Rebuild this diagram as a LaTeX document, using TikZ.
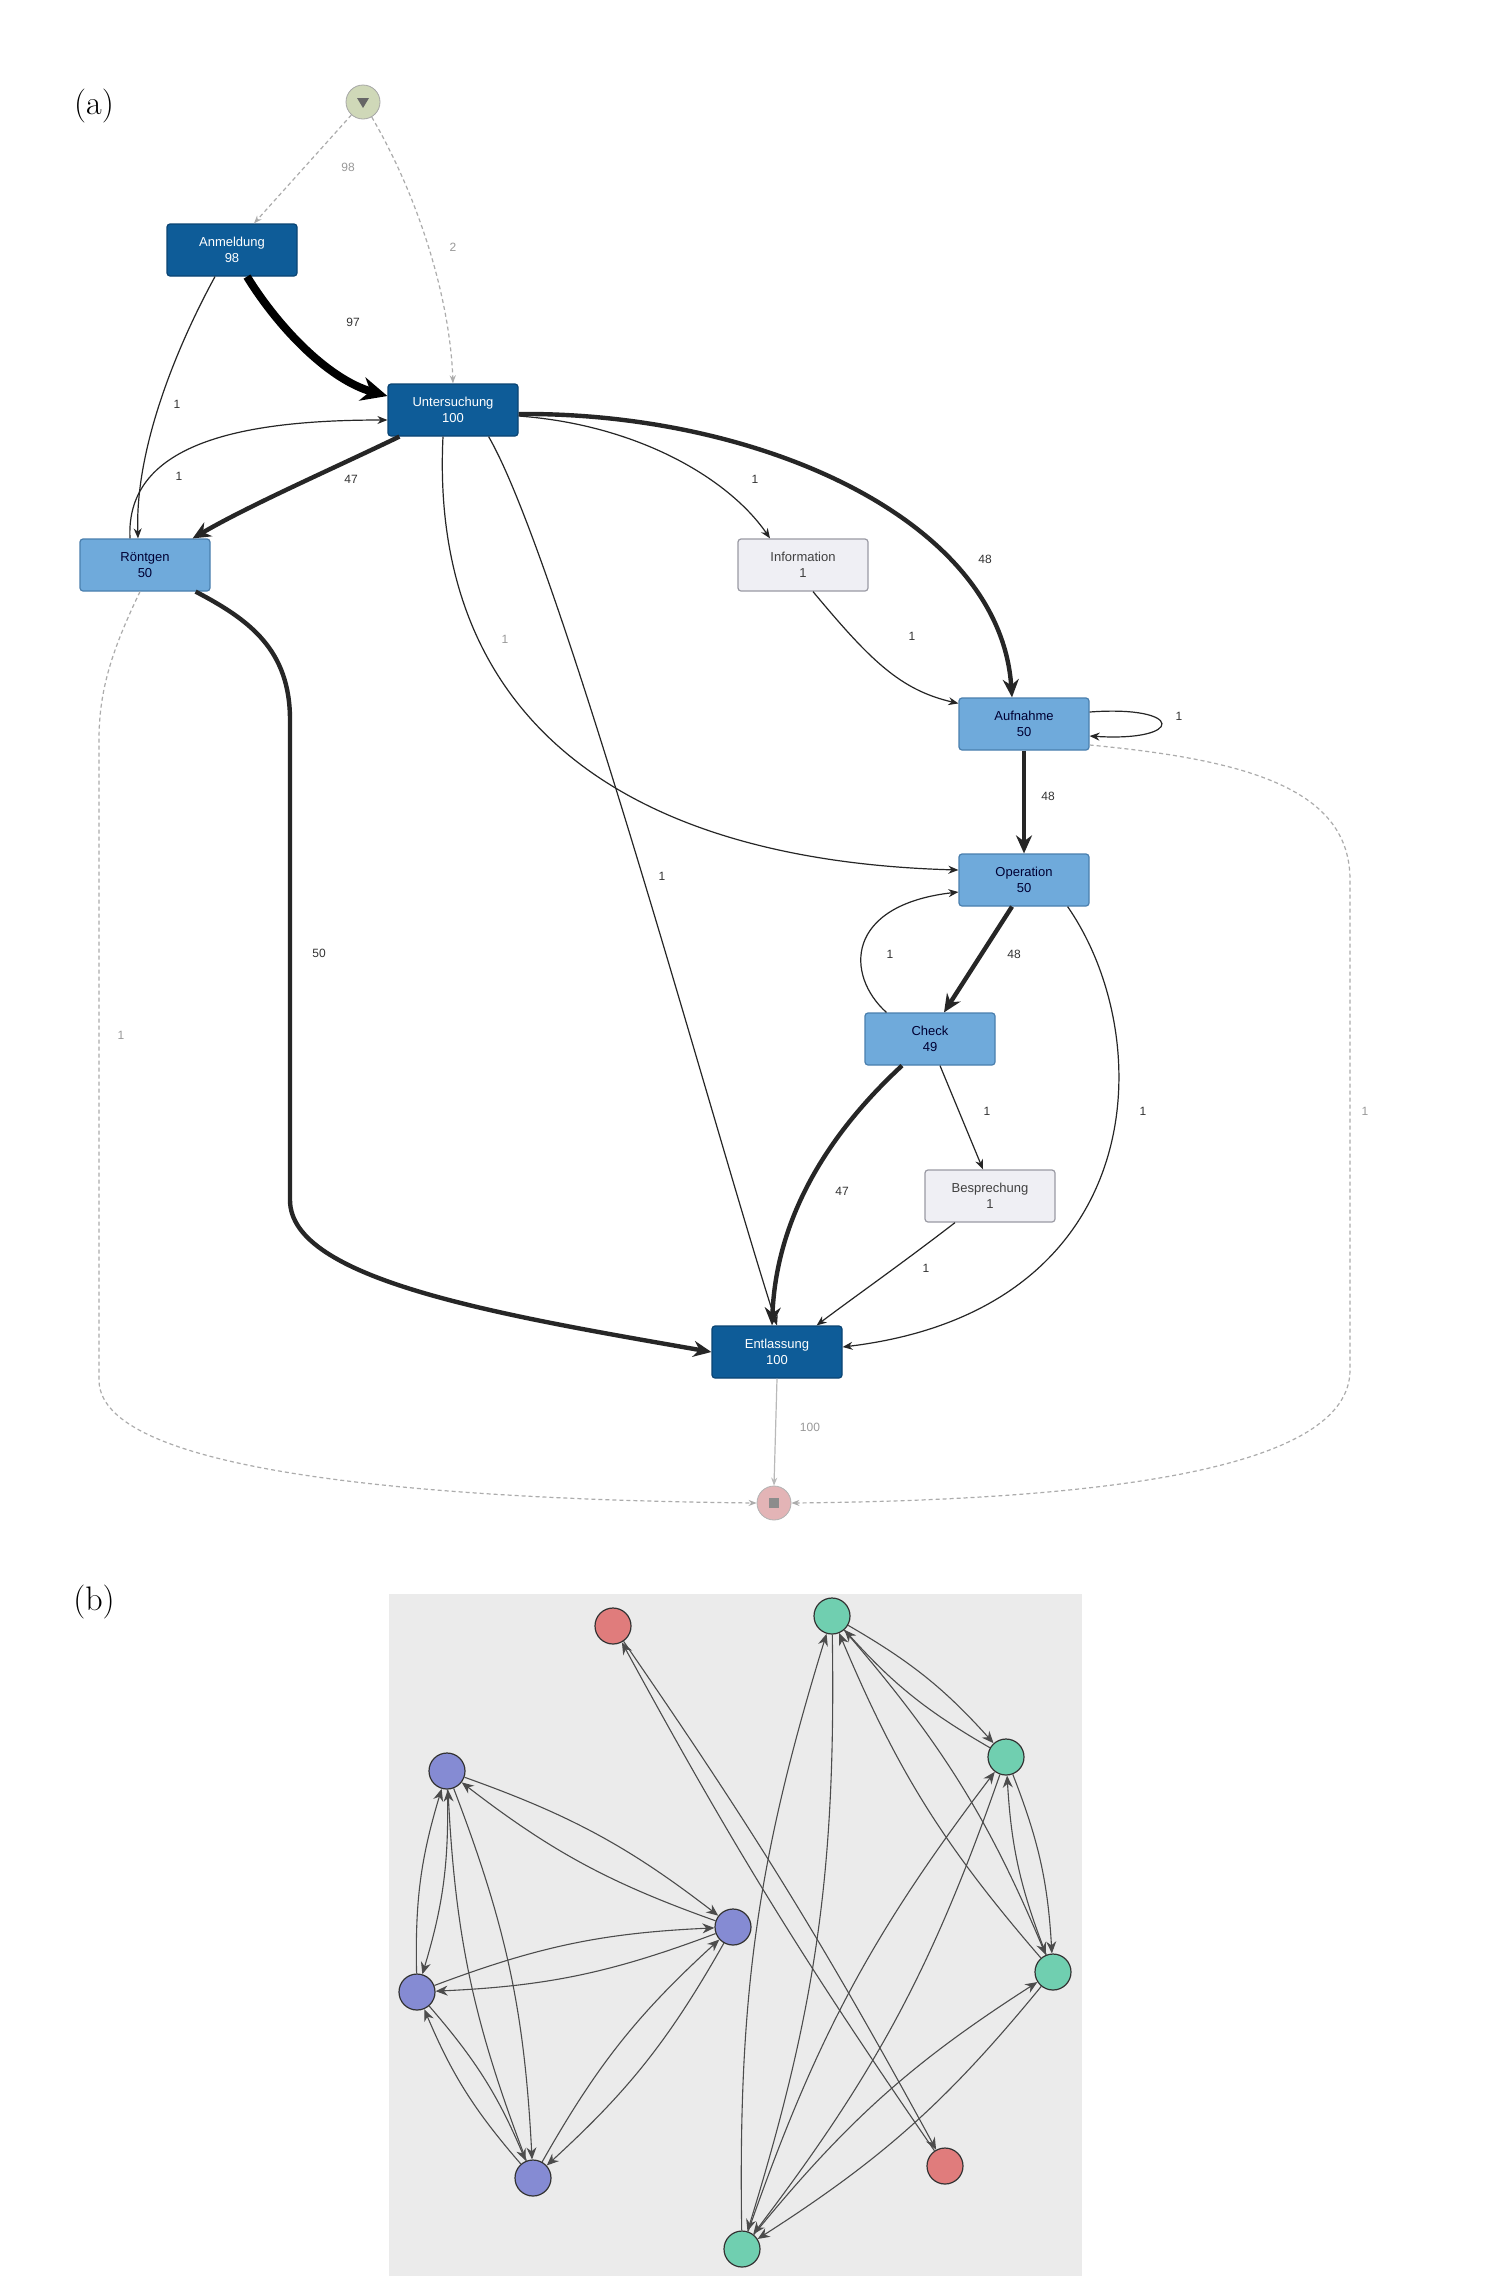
\documentclass[tikz,border=0pt]{standalone}
\usepackage{fontspec}
\newfontfamily\sfarial{Liberation Sans}
\usetikzlibrary{arrows.meta,calc}
\definecolor{dk}{HTML}{0E5C98}
\definecolor{dkb}{HTML}{0A4473}
\definecolor{md}{HTML}{6FAADB}
\definecolor{mdb}{HTML}{4A7FAE}
\definecolor{lt}{HTML}{EFEFF4}
\definecolor{ltb}{HTML}{9A9AA4}
\definecolor{bbg}{HTML}{EBEBEB}
\definecolor{cblue}{HTML}{858BD3}
\definecolor{cgreen}{HTML}{70CFB0}
\definecolor{cred}{HTML}{E07C7C}
\definecolor{stfill}{HTML}{CFD8B8}
\definecolor{enfill}{HTML}{E3B4B6}
\begin{document}
\begin{tikzpicture}[x=0.5pt,y=-0.5pt,
  box/.style={rectangle, rounded corners=1.5pt, minimum width=65pt, minimum height=26pt,
    inner sep=1pt, font=\sfarial\fontsize{6.5}{7.8}\selectfont, align=center, line width=0.6pt},
  dkbox/.style={box, fill=dk, draw=dkb, text=white},
  mdbox/.style={box, fill=md, draw=mdb, text=black!80!blue},
  ltbox/.style={box, fill=lt, draw=ltb, text=black!75},
  ed/.style={draw=black!85, line width=0.6pt, -{Stealth[length=5pt,width=4pt]}},
  thk/.style={draw=black!85, line width=2.2pt, -{Stealth[length=9pt,width=8pt]}},
  vthk/.style={draw=black, line width=4pt, -{Stealth[length=13pt,width=12pt]}},
  dsh/.style={draw=gray!65, line width=0.6pt, dash pattern=on 2pt off 1.5pt, -{Stealth[length=4pt,width=3pt]}},
  lbl/.style={font=\sfarial\fontsize{6}{7}\selectfont, text=black!80, inner sep=1pt},
  glbl/.style={lbl, text=gray!80},
  bn/.style={circle, draw=black!80, line width=0.6pt, minimum size=18pt, inner sep=0pt},
  be/.style={draw=black!70, line width=0.55pt, -{Stealth[length=6pt,width=5pt]}}
]
\useasboundingbox[fill=white] (0,0) rectangle (1500,2276);

% ---------- (a) ----------
\node[font=\fontsize{17}{19}\selectfont] (la) at (94,106) {(a)};

\node[circle, fill=stfill, draw=gray!70, minimum size=17pt, inner sep=0pt] (start) at (363,102) {};
\fill[black!60] ($(start)+(-6,-4)$) -- ($(start)+(6,-4)$) -- ($(start)+(0,6)$) -- cycle;
\node[circle, fill=enfill, draw=gray!60, minimum size=17pt, inner sep=0pt] (end) at (774,1503) {};
\fill[black!45] ($(end)+(-5,-5)$) rectangle ($(end)+(5,5)$);

\node[dkbox] (anm) at (232,250) {Anmeldung\\98};
\node[dkbox] (unt) at (453,410) {Untersuchung\\100};
\node[mdbox] (ron) at (145,565) {Röntgen\\50};
\node[ltbox] (info) at (803,565) {Information\\1};
\node[mdbox] (auf) at (1024,724) {Aufnahme\\50};
\node[mdbox] (op) at (1024,880) {Operation\\50};
\node[mdbox] (chk) at (930,1039) {Check\\49};
\node[ltbox] (besp) at (990,1196) {Besprechung\\1};
\node[dkbox] (ent) at (777,1352) {Entlassung\\100};

% start edges
\draw[dsh] (start) -- ($(anm.north)+(22,0)$);
\draw[dsh] (start) .. controls (420,200) and (450,300) .. (unt.north);
% Anmeldung
\draw[vthk] ($(anm.south)+(15,0)$) .. controls (280,330) and (330,380) .. ($(unt.west)+(0,-14)$);
\draw[ed] ($(anm.south)+(-17,0)$) .. controls (175,350) and (135,450) .. ($(ron.north)+(-7,0)$);
% Roentgen <-> Untersuchung
\draw[ed] ($(ron.north)+(-15,0)$) .. controls (125,440) and (250,420) .. ($(unt.west)+(0,10)$);
\draw[thk] ($(unt.south west)+(12,0)$) .. controls (330,470) and (250,505) .. ($(ron.north east)+(-18,0)$);
% Untersuchung out
\draw[ed] ($(unt.east)+(0,6)$) .. controls (640,425) and (730,480) .. ($(info.north)+(-33,0)$);
\draw[thk] ($(unt.east)+(0,4)$) .. controls (760,412) and (1000,520) .. ($(auf.north)+(-12,0)$);
\draw[ed] ($(unt.south)+(-10,0)$) .. controls (430,700) and (600,860) .. ($(op.west)+(0,-10)$);
\draw[ed] ($(unt.south east)+(-30,0)$) .. controls (560,560) and (720,1150) .. (ent.north);
% Information
\draw[ed] ($(info.south)+(10,0)$) .. controls (870,660) and (900,690) .. ($(auf.north west)+(0,6)$);
% Aufnahme
\draw[ed] ($(auf.east)+(0,-12)$) .. controls (1185,705) and (1185,742) .. ($(auf.east)+(0,12)$);
\draw[thk] (auf.south) -- (op.north);
\draw[dsh] ($(auf.east)+(0,21)$) .. controls (1250,760) and (1350,790) .. (1350,880) -- (1350,1370) .. controls (1350,1470) and (1100,1500) .. (end.east);
% Operation
\draw[thk] ($(op.south)+(-12,0)$) -- ($(chk.north)+(14,0)$);
\draw[ed] ($(chk.north west)+(22,0)$) .. controls (845,975) and (845,905) .. ($(op.west)+(0,12)$);
\draw[ed] ($(op.south east)+(-22,0)$) .. controls (1160,1040) and (1150,1310) .. ($(ent.east)+(0,-5)$);
% Check
\draw[ed] ($(chk.south)+(10,0)$) -- ($(besp.north)+(-7,0)$);
\draw[thk] ($(chk.south)+(-28,0)$) .. controls (800,1160) and (775,1250) .. ($(ent.north)+(-5,0)$);
\draw[ed] ($(besp.south)+(-35,0)$) .. controls (900,1265) and (850,1300) .. ($(ent.north east)+(-26,0)$);
% Roentgen out
\draw[thk] ($(ron.south east)+(-15,0)$) .. controls (250,620) and (290,650) .. (290,720) -- (290,1200) .. controls (290,1280) and (500,1315) .. (ent.west);
\draw[dsh] ($(ron.south)+(-5,0)$) .. controls (112,650) and (99,690) .. (99,740) -- (99,1380) .. controls (99,1480) and (480,1500) .. (end.west);
% Entlassung -> end
\draw[draw=gray!55, line width=0.6pt, -{Stealth[length=4pt,width=3pt]}] (ent.south) -- (end.north);

% labels
\node[glbl] (l1) at (348,167) {98};
\node[glbl] (l2) at (453,247) {2};
\node[lbl] (l3) at (353,322) {97};
\node[lbl] (l4) at (177,404) {1};
\node[lbl] (l5) at (179,476) {1};
\node[lbl] (l6) at (351,479) {47};
\node[lbl] (l7) at (755,479) {1};
\node[lbl] (l8) at (985,559) {48};
\node[lbl] (l9) at (912,636) {1};
\node[lbl] (l10) at (1179,716) {1};
\node[lbl] (l11) at (1048,796) {48};
\node[glbl] (l12) at (505,639) {1};
\node[lbl] (l13) at (662,876) {1};
\node[lbl] (l14) at (1014,954) {48};
\node[lbl] (l15) at (890,954) {1};
\node[lbl] (l16) at (1143,1111) {1};
\node[lbl] (l17) at (987,1111) {1};
\node[lbl] (l18) at (926,1268) {1};
\node[lbl] (l19) at (842,1191) {47};
\node[lbl] (l20) at (319,953) {50};
\node[glbl] (l21) at (121,1035) {1};
\node[glbl] (l22) at (1365,1111) {1};
\node[glbl] (l23) at (810,1427) {100};

% ---------- (b) ----------
\node[font=\fontsize{17}{19}\selectfont] (lb) at (94,1602) {(b)};
\fill[bbg] (389,1594) rectangle (1082,2276);

\node[bn, fill=cred] (r1) at (613,1626) {};
\node[bn, fill=cred] (r2) at (945,2166) {};
\node[bn, fill=cblue] (b1) at (447,1771) {};
\node[bn, fill=cblue] (b2) at (733,1927) {};
\node[bn, fill=cblue] (b3) at (417,1992) {};
\node[bn, fill=cblue] (b4) at (533,2178) {};
\node[bn, fill=cgreen] (g1) at (832,1616) {};
\node[bn, fill=cgreen] (g2) at (1006,1757) {};
\node[bn, fill=cgreen] (g3) at (1053,1972) {};
\node[bn, fill=cgreen] (g4) at (742,2249) {};

\foreach \a/\b in {b1/b2,b1/b3,b1/b4,b2/b3,b2/b4,b3/b4,g1/g2,g1/g3,g1/g4,g2/g3,g2/g4,g3/g4}{
  \draw[be] (\a) to[bend left=9] (\b);
  \draw[be] (\b) to[bend left=9] (\a);
}
\draw[be] (r1) to[bend left=3] (r2);
\draw[be] (r2) to[bend left=3] (r1);
\end{tikzpicture}
\end{document}
